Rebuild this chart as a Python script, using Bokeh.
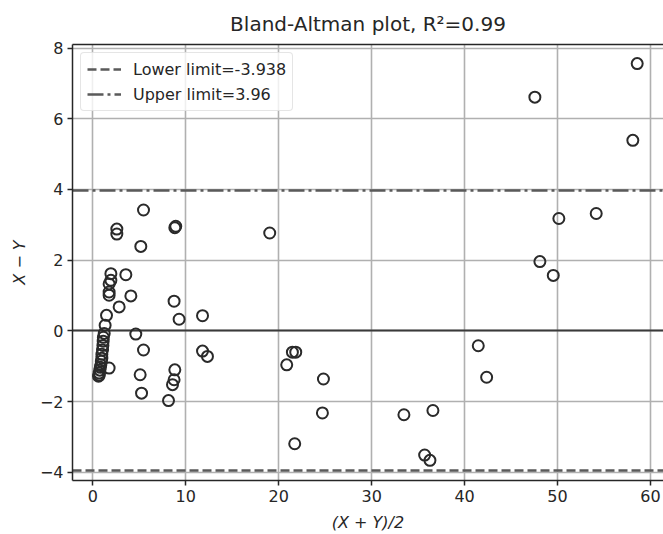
from bokeh.plotting import figure
from bokeh.models import Range1d, FixedTicker, Legend, LegendItem, ColumnDataSource, LinearAxis
from bokeh.embed import file_html
from bokeh.resources import INLINE

# data: mean (X+Y)/2 and difference X-Y
mean_xy = [58.57, 47.56, 58.10, 50.14, 54.16, 48.10, 49.54, 41.47, 42.37, 36.59,
           33.47, 35.70, 36.27, 24.81, 24.70, 21.72, 19.03, 21.47, 21.83, 20.86,
           8.92, 8.82, 8.74, 9.28, 11.80, 11.80, 12.33, 8.82, 8.74, 8.57,
           8.14, 5.45, 5.16, 4.62, 5.45, 5.09, 5.24, 4.09, 3.55, 2.58,
           2.58, 2.83, 1.94, 1.94, 1.75, 1.75, 1.75, 1.47, 1.32, 1.22,
           1.13, 1.11, 1.08, 1.04, 0.97, 0.97, 0.91, 0.86, 0.81, 0.75,
           0.68, 0.70, 0.61, 1.75]
diff_xy = [7.56, 6.61, 5.39, 3.18, 3.32, 1.96, 1.57, -0.42, -1.31, -2.25,
           -2.37, -3.51, -3.66, -1.36, -2.32, -3.19, 2.77, -0.60, -0.60, -0.96,
           2.96, 2.92, 0.84, 0.33, 0.43, -0.57, -0.72, -1.10, -1.38, -1.52,
           -1.97, 3.42, 2.39, -0.09, -0.54, -1.24, -1.76, 0.99, 1.59, 2.88,
           2.74, 0.68, 1.62, 1.43, 1.33, 1.10, 1.01, 0.44, 0.16, -0.07,
           -0.18, -0.29, -0.41, -0.54, -0.66, -0.77, -0.86, -0.96, -1.03, -1.11,
           -1.19, -1.25, -1.28, -1.05]
lower_limit = -3.938
upper_limit = 3.96
zero_line = 0.0
x_ticks = [0, 10, 20, 30, 40, 50, 60]
y_ticks = [-4, -2, 0, 2, 4, 6, 8]
title_text = "Bland-Altman plot, R\u00b2=0.99"

FONT = "DejaVu Sans"
INK = "#262626"

p = figure(width=663, height=534, output_backend="svg", toolbar_location=None,
           x_range=Range1d(-2.19, 61.4), y_range=Range1d(-4.23, 8.10),
           min_border_left=72, min_border_right=0, min_border_top=44, min_border_bottom=51)
p.title.text = title_text
p.title.align = "center"
p.title.text_font = FONT
p.title.text_font_size = "20px"
p.title.text_font_style = "normal"
p.title.text_color = INK
p.title.standoff = 17
p.background_fill_color = "white"
p.border_fill_color = "white"
p.outline_line_color = None

# grid
for g in (p.xgrid, p.ygrid):
    g.grid_line_color = "#b0b0b0"
    g.grid_line_width = 1.6
p.xgrid.ticker = FixedTicker(ticks=x_ticks)
p.ygrid.ticker = FixedTicker(ticks=y_ticks)

for ax in (p.xaxis[0], p.yaxis[0]):
    ax.axis_line_color = INK
    ax.axis_line_width = 1.5
    ax.major_tick_line_color = INK
    ax.major_tick_line_width = 1.5
    ax.major_tick_out = 5
    ax.major_tick_in = 0
    ax.minor_tick_line_color = None
    ax.major_label_text_font = FONT
    ax.major_label_text_font_size = "16px"
    ax.major_label_text_color = INK
    ax.axis_label_text_font = FONT
    ax.axis_label_text_font_size = "16px"
    ax.axis_label_text_font_style = "italic"
    ax.axis_label_text_color = INK
    ax.major_label_standoff = 4

p.xaxis[0].ticker = FixedTicker(ticks=x_ticks)
p.yaxis[0].ticker = FixedTicker(ticks=y_ticks)
p.xaxis[0].major_label_overrides = {t: str(t).replace("-", "\u2212") for t in x_ticks}
p.yaxis[0].major_label_overrides = {t: str(t).replace("-", "\u2212") for t in y_ticks}
p.xaxis[0].axis_label = "(X + Y)/2"
p.yaxis[0].axis_label = "X \u2212 Y"
p.xaxis[0].axis_label_standoff = 8
p.yaxis[0].axis_label_standoff = 8

# top spine only (right spine falls outside the picture)
top = LinearAxis(ticker=FixedTicker(ticks=[]), major_tick_out=0, major_tick_in=0,
                 minor_tick_out=0, minor_tick_in=0, major_label_text_font_size="0px",
                 axis_line_color=INK, axis_line_width=1.5, major_label_standoff=0)
p.add_layout(top, "above")

# reference lines
p.hspan(y=[zero_line], line_color="#3a3a3a", line_width=2.2)
r_low = p.hspan(y=[lower_limit], line_color="#5a5a5a", line_width=2.4, line_dash="9 4")
r_up = p.hspan(y=[upper_limit], line_color="#5a5a5a", line_width=2.4, line_dash="16 4 3 4")

# points
src = ColumnDataSource(dict(x=mean_xy, y=diff_xy))
p.scatter("x", "y", source=src, size=11, marker="circle", fill_color=None,
          line_color="#2a2a2a", line_width=2)

legend = Legend(items=[LegendItem(label="Lower limit=%s" % lower_limit, renderers=[r_low]),
                       LegendItem(label="Upper limit=%s" % upper_limit, renderers=[r_up])],
                location="top_left", margin=8, padding=6, spacing=5,
                glyph_width=34, glyph_height=20, label_height=20, label_standoff=12,
                label_text_font=FONT, label_text_font_size="16px", label_text_color=INK,
                border_line_color="#cccccc", border_line_width=1.2, border_radius=4,
                background_fill_color="white", background_fill_alpha=0.8)
p.add_layout(legend, "center")

open("out.html", "w").write(file_html(p, INLINE))
